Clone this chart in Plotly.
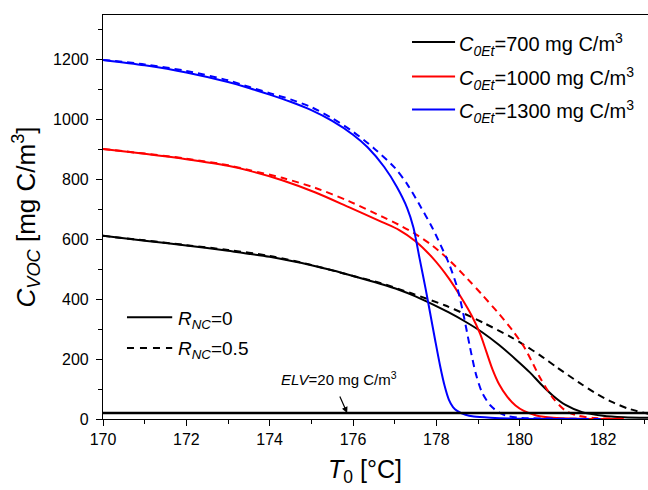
import plotly.graph_objects as go

# Outlet VOC concentration vs. inlet temperature T0 for three inlet ethanol
# concentrations, with (R_NC=0.5) and without (R_NC=0) recirculation.

t_700_r0 = [170, 171, 172, 173, 174, 175, 175.5, 176, 176.65, 177.1, 177.5, 177.9, 178.3,
            178.7, 179.1, 179.5, 179.9, 180.25, 180.5, 180.8, 181.1, 181.5, 182, 182.5, 183.1]
c_700_r0 = [612, 596, 580, 562, 542, 514, 497, 478, 452, 432, 410, 384, 356,
            325, 290, 248, 200, 155, 118, 78, 47, 23, 11, 6, 4]

t_700_r05 = [170, 171, 172, 173, 174, 175, 176, 176.65, 177.4, 178.2, 178.7, 179.15,
             179.75, 180.1, 180.5, 180.9, 181.4, 181.8, 182.2, 182.6, 183.1]
c_700_r05 = [612, 597, 581, 565, 545, 515, 478, 455, 420, 380, 350, 320,
             277, 248, 212, 172, 124, 88, 58, 35, 17]

t_1000_r0 = [170, 171, 172, 173, 173.5, 174.3, 175.1, 175.9, 176.7, 177.1, 177.5, 177.9,
             178.3, 178.6, 178.85, 179.05, 179.2, 179.35, 179.5, 179.7, 179.9, 180.1,
             180.4, 180.8, 181.5, 182.5]
c_1000_r0 = [902, 886, 868, 846, 830, 798, 757, 708, 658, 632, 594, 540,
             470, 405, 345, 285, 225, 165, 118, 75, 45, 27,
             12, 4, 1, 0]

t_1000_r05 = [170, 171, 172, 173, 173.5, 174.3, 175.1, 175.9, 176.7, 177.1, 177.5, 177.9,
              178.3, 178.75, 179.1, 179.5, 179.85, 180.1, 180.3, 180.5, 180.8, 181.1,
              181.4, 181.8, 182.5]
c_1000_r05 = [902, 887, 870, 848, 832, 806, 772, 728, 676, 649, 618, 580,
              532, 468, 415, 352, 292, 242, 190, 135, 70, 28,
              11, 3, 1]

t_1300_r0 = [170, 171, 172, 173, 173.5, 174, 174.5, 175, 175.5, 176, 176.35, 176.75,
             177.05, 177.3, 177.45, 177.6, 177.75, 177.85, 177.97, 178.09, 178.2,
             178.3, 178.4, 178.5, 178.7, 178.9, 179.3, 180, 181.5]
c_1300_r0 = [1200, 1182, 1158, 1126, 1106, 1084, 1060, 1032, 996, 950, 908, 842,
             776, 705, 640, 535, 430, 355, 265, 178, 110,
             65, 40, 27, 14, 8, 4, 1, 0]

t_1300_r05 = [170, 171, 172, 173, 173.5, 174, 174.5, 175, 175.5, 176, 176.5, 177,
              177.3, 177.6, 177.9, 178.1, 178.3, 178.5, 178.65, 178.8, 178.95, 179.1,
              179.3, 179.5, 179.7, 180, 181, 182]
c_1300_r05 = [1200, 1185, 1163, 1132, 1110, 1089, 1068, 1042, 1005, 960, 905, 840,
              785, 715, 640, 582, 520, 440, 350, 245, 150, 88,
              45, 22, 10, 4, 1, 0]

# Emission limit value
elv_t = [170, 183.1]
elv_c = [20, 20]

x_ticks = [170, 172, 174, 176, 178, 180, 182]
y_ticks = [0, 200, 400, 600, 800, 1000, 1200]

series_labels = ["<i>C</i><sub><i>0Et</i></sub>=700 mg C/m<sup>3</sup>",
                 "<i>C</i><sub><i>0Et</i></sub>=1000 mg C/m<sup>3</sup>",
                 "<i>C</i><sub><i>0Et</i></sub>=1300 mg C/m<sup>3</sup>"]
series_colors = ["#000000", "#ff0000", "#0000ff"]
rnc_labels = ["<i>R</i><sub><i>NC</i></sub>=0", "<i>R</i><sub><i>NC</i></sub>=0.5"]

FONT = "Liberation Sans, Arial, sans-serif"
DASH = "7px,5px"
LW = 2

fig = go.Figure()

curves = [
    (t_700_r0, c_700_r0, 0, "solid"),
    (t_700_r05, c_700_r05, 0, DASH),
    (t_1000_r0, c_1000_r0, 1, "solid"),
    (t_1000_r05, c_1000_r05, 1, DASH),
    (t_1300_r0, c_1300_r0, 2, "solid"),
    (t_1300_r05, c_1300_r05, 2, DASH),
]
for t, c, k, dash in curves:
    fig.add_trace(go.Scatter(x=t, y=c, mode="lines", line_shape="spline",
                             line=dict(color=series_colors[k], width=LW, dash=dash,
                                       smoothing=0.8),
                             showlegend=False, hoverinfo="skip"))

fig.add_trace(go.Scatter(x=elv_t, y=elv_c, mode="lines",
                         line=dict(color="#000000", width=2.5),
                         showlegend=False, hoverinfo="skip"))

# Legend keys drawn in paper coordinates
shapes = []
annotations = []
leg1_y = [0.933, 0.848, 0.766]
for label, color, y in zip(series_labels, series_colors, leg1_y):
    shapes.append(dict(type="line", xref="paper", yref="paper",
                       x0=0.567, x1=0.646, y0=y, y1=y,
                       line=dict(color=color, width=LW)))
    annotations.append(dict(xref="paper", yref="paper", x=0.650, y=y - 0.006,
                            text=label, showarrow=False, xanchor="left",
                            yanchor="middle", font=dict(size=20, family=FONT, color="#000")))
leg2_y = [0.252, 0.176]
for label, dash, y in zip(rnc_labels, ["solid", "7px,6px"], leg2_y):
    shapes.append(dict(type="line", xref="paper", yref="paper",
                       x0=0.044, x1=0.127, y0=y, y1=y,
                       line=dict(color="#000000", width=LW, dash=dash)))
    annotations.append(dict(xref="paper", yref="paper", x=0.134, y=y - 0.006,
                            text=label, showarrow=False, xanchor="left",
                            yanchor="middle", font=dict(size=19, family=FONT, color="#000")))

# ELV label and arrow
annotations.append(dict(x=174.22, y=137, xref="x", yref="y",
                        text="<i>ELV</i>=20 mg C/m<sup>3</sup>", showarrow=False,
                        xanchor="left", yanchor="middle",
                        font=dict(size=15, family=FONT, color="#000")))
annotations.append(dict(x=175.86, y=20, xref="x", yref="y", text="",
                        showarrow=True, arrowhead=2, arrowsize=1, arrowwidth=1.2,
                        arrowcolor="#000", ax=-8, ay=-18))

# x-axis title
annotations.append(dict(xref="paper", yref="paper", x=0.481, y=-0.128,
                        text="<i>T</i><sub>0</sub> [°C]", showarrow=False,
                        xanchor="center", yanchor="middle",
                        font=dict(size=25, family=FONT, color="#000")))

fig.update_layout(
    width=648, height=490,
    margin=dict(l=103, r=0, t=15, b=71),
    plot_bgcolor="white", paper_bgcolor="white",
    font=dict(family=FONT, color="#000", size=16),
    shapes=shapes, annotations=annotations,
    showlegend=False,
)
fig.update_xaxes(range=[170, 183.08], tickvals=x_ticks, ticks="outside", ticklen=6,
                 tickwidth=1, tickcolor="#000", linecolor="#000", linewidth=1.2,
                 mirror=True, showgrid=False, zeroline=False,
                 minor=dict(dtick=1, ticks="outside", ticklen=4, tickcolor="#000"),
                 tickfont=dict(size=16, family=FONT))
fig.update_yaxes(range=[0, 1350], tickvals=y_ticks, ticks="outside", ticklen=6,
                 tickwidth=1, tickcolor="#000", linecolor="#000", linewidth=1.2,
                 mirror=True, showgrid=False, zeroline=False, ticklabelstandoff=4,
                 minor=dict(dtick=100, ticks="outside", ticklen=4, tickcolor="#000"),
                 tickfont=dict(size=16, family=FONT),
                 title=dict(text="<i>C</i><sub><i>VOC</i></sub> [mg C/m<sup>3</sup>]",
                            font=dict(size=26, family=FONT), standoff=10))

fig.write_html("out.html")
